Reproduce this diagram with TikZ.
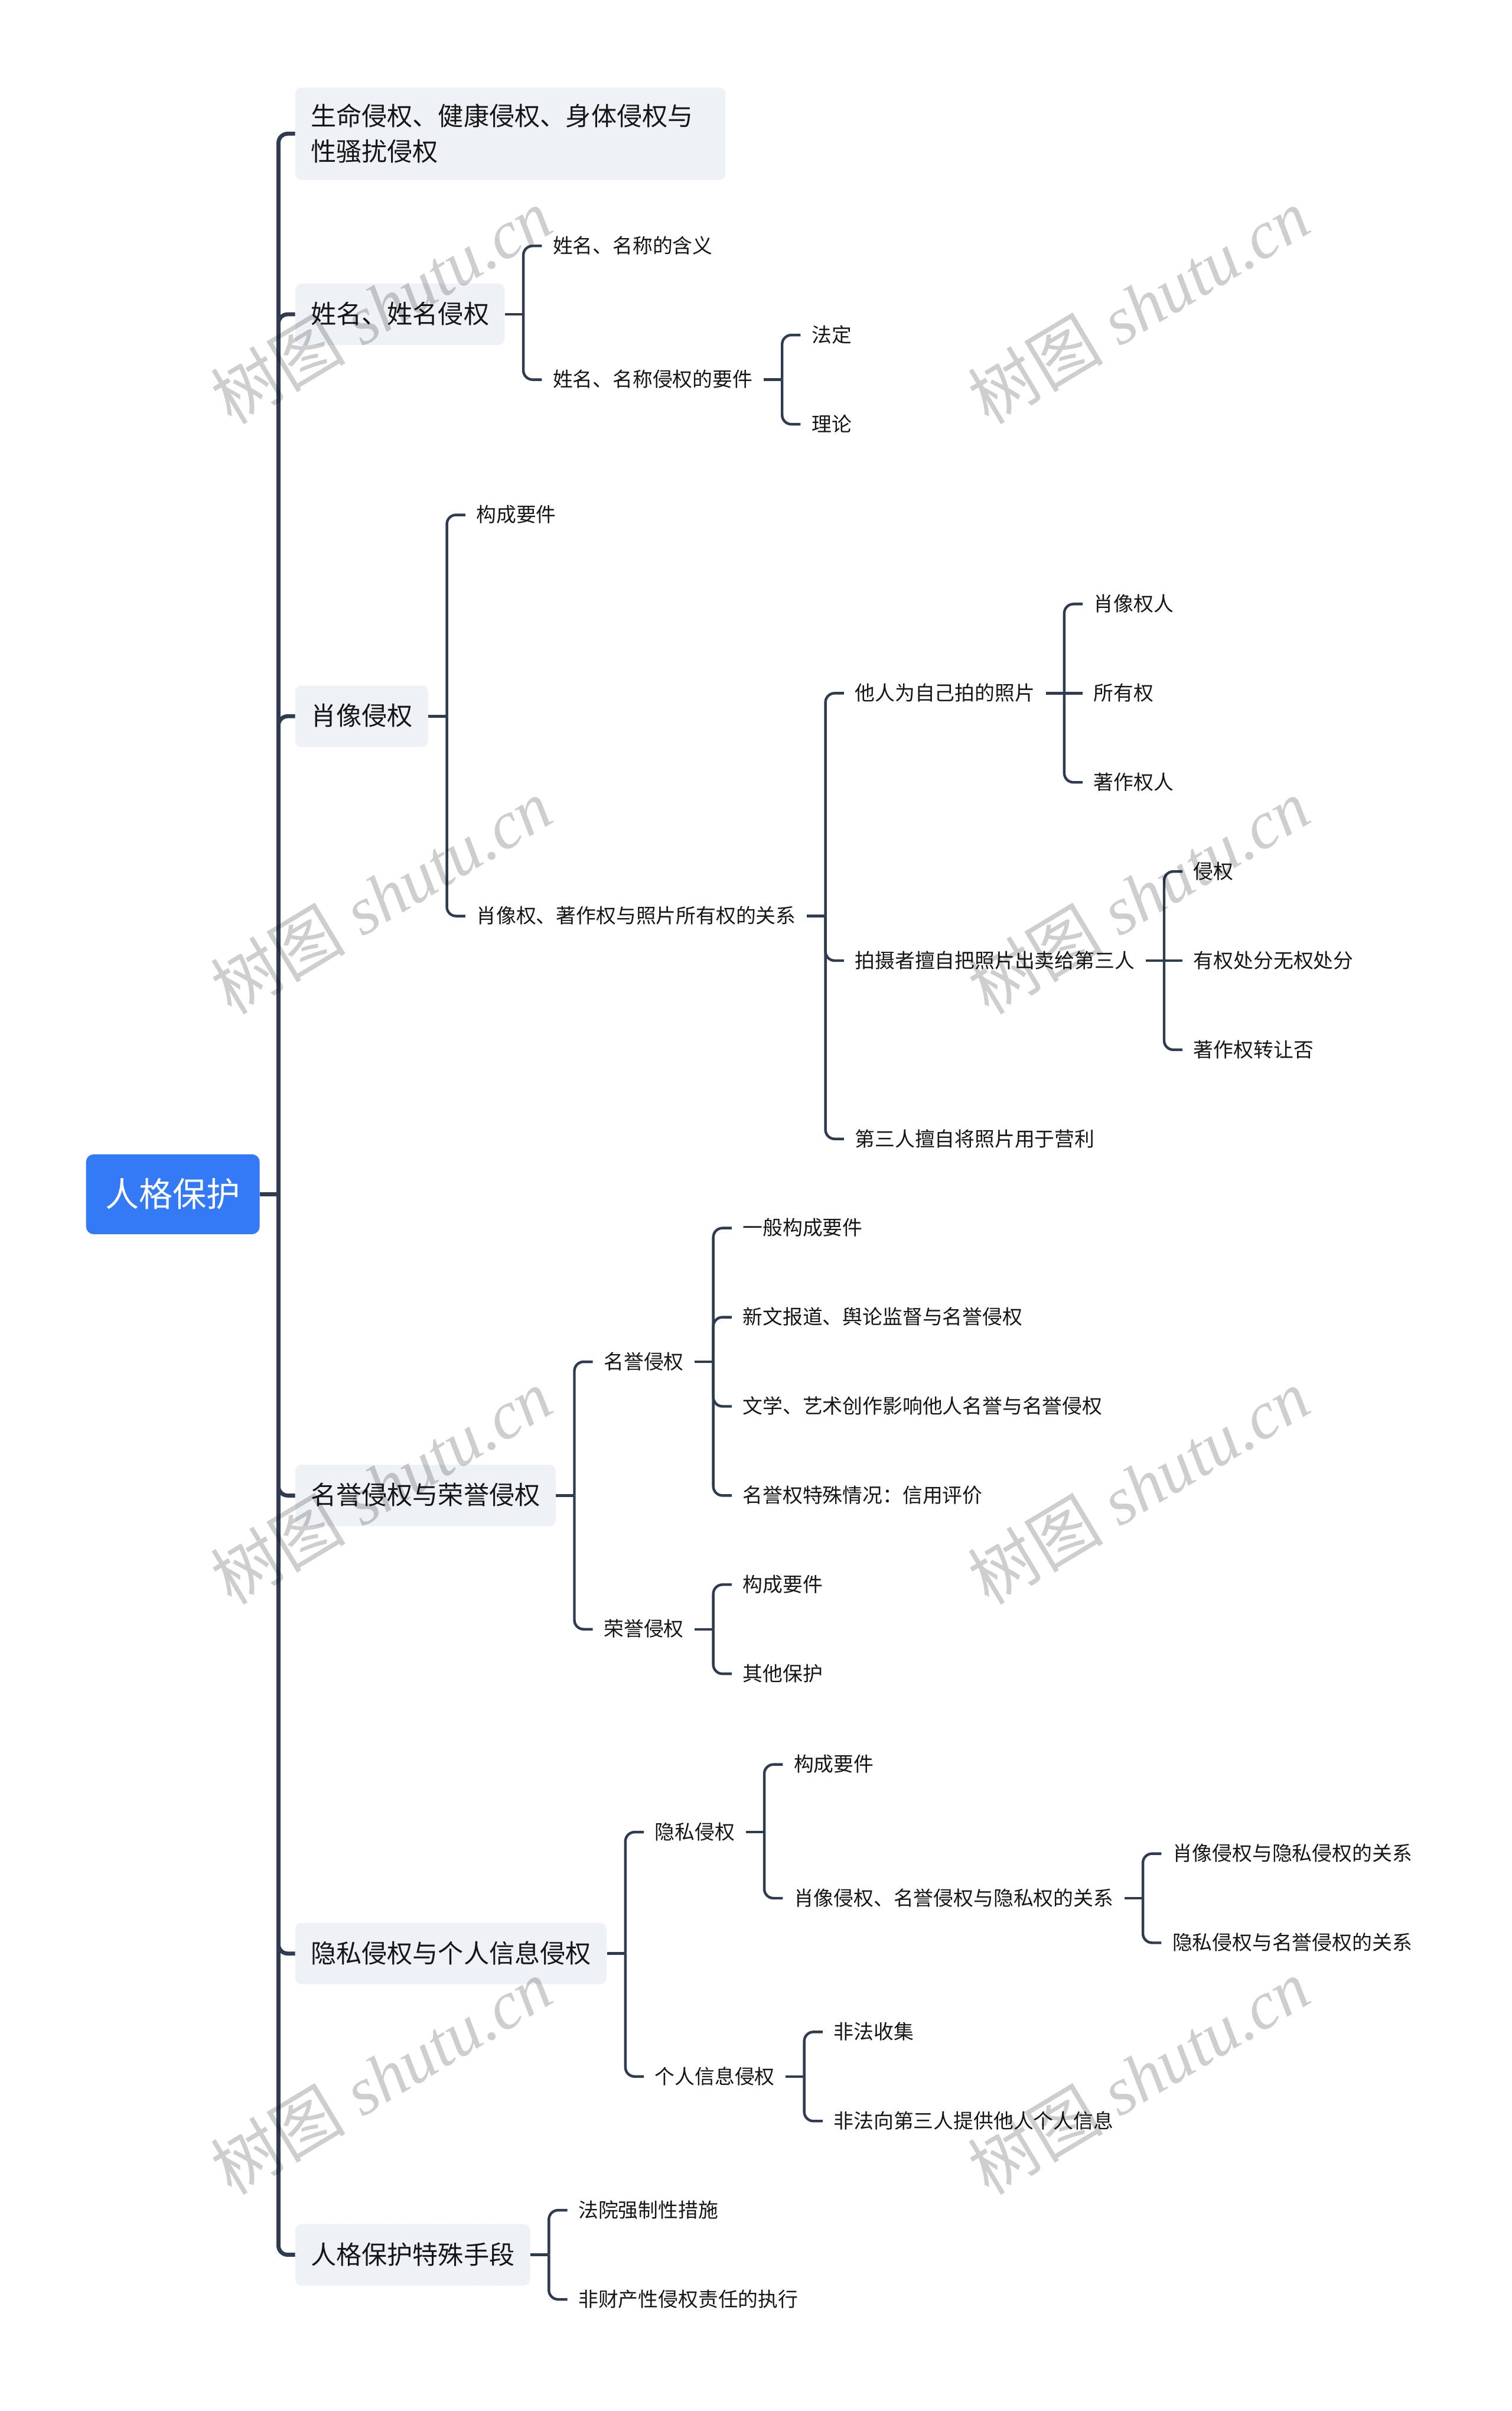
\documentclass[tikz,border=0pt]{standalone}
\usepackage{fontspec}
\setmainfont{Noto Sans CJK SC}
\newfontfamily\wmlatin{Liberation Serif}
\usetikzlibrary{calc}
\definecolor{linec}{RGB}{47,60,80}
\definecolor{boxc}{RGB}{238,241,245}
\definecolor{rootc}{RGB}{52,122,246}
\definecolor{txt}{RGB}{22,22,22}
\definecolor{wmc}{RGB}{206,206,206}
\tikzset{
  conn/.style={draw=linec, line width=1.7pt},
  trunkline/.style={draw=linec, line width=2.6pt},
  leaf/.style={anchor=west, inner xsep=7pt, inner ysep=0pt, text=txt,
    font=\fontsize{13}{15}\selectfont, text height=11pt, text depth=1.6pt},
  lonebase/.style={anchor=west, fill=boxc, rounded corners=4pt, inner xsep=10pt,
    text=txt, font=\fontsize{16.6}{23}\selectfont},
  lone/.style={lonebase, minimum height=40pt, inner ysep=0pt, text height=14pt, text depth=2pt},
  rootbox/.style={fill=rootc, text=white, rounded corners=5pt, minimum width=113pt,
    minimum height=52pt, inner sep=0pt, font=\fontsize{22}{26}\selectfont,
    text height=18.5pt, text depth=2.6pt},
  wm/.style={text=wmc, rotate=31, inner sep=0pt, font=\fontsize{44}{50}\selectfont}
}
\newcommand\kid[4]{\node[leaf] (#1) at ($(#2.east |- 0,-#3)+(24,0)$) {#4};}
\newcommand\branch[2]{%
  \draw[conn] (#1.east) -- ++(12,0) coordinate (#1-b);
  \foreach \c in {#2} {\draw[conn, rounded corners=6pt] (#1-b) |- (\c.west);}
}
\newcommand\straight[2]{\draw[conn] (#1-b) -- (#2.west);}
\begin{document}
\begin{tikzpicture}[x=1pt,y=1pt]
\useasboundingbox (0,0) rectangle (984,-1568.65);
\fill[white] (0,0) rectangle (984,-1568.65);
% root
\node[rootbox] (root) at (112.5,-777) {人格保护};
% level 1
\node[lonebase, text width=260pt, align=left, minimum height=60pt, inner ysep=10pt] (A1) at (192,-87) {生命侵权、健康侵权、身体侵权与\\性骚扰侵权};
\node[lone] (A2) at (192,-204.5) {姓名、姓名侵权};
\node[lone] (A3) at (192,-466) {肖像侵权};
\node[lone] (A4) at (192,-973) {名誉侵权与荣誉侵权};
\node[lone] (A5) at (192,-1271) {隐私侵权与个人信息侵权};
\node[lone] (A6) at (192,-1467) {人格保护特殊手段};
% trunk
\draw[trunkline] (root.east) -- ++(12,0) coordinate (T);
\foreach \c in {A1,A2,A3,A4,A5,A6} {\draw[trunkline, rounded corners=6pt] (T) |- (\c.west);}
% level 2+
\kid{b1}{A2}{160}{姓名、名称的含义}
\kid{b2}{A2}{247}{姓名、名称侵权的要件}
\kid{c1}{b2}{218}{法定}
\kid{c2}{b2}{276}{理论}
\kid{d1}{A3}{335}{构成要件}
\kid{d2}{A3}{596}{肖像权、著作权与照片所有权的关系}
\kid{e1}{d2}{451}{他人为自己拍的照片}
\kid{e2}{d2}{625}{拍摄者擅自把照片出卖给第三人}
\kid{e3}{d2}{741}{第三人擅自将照片用于营利}
\kid{f1}{e1}{393}{肖像权人}
\kid{f2}{e1}{451}{所有权}
\kid{f3}{e1}{509}{著作权人}
\kid{g1}{e2}{567}{侵权}
\kid{g2}{e2}{625}{有权处分无权处分}
\kid{g3}{e2}{683}{著作权转让否}
\kid{h1}{A4}{886}{名誉侵权}
\kid{h2}{A4}{1060}{荣誉侵权}
\kid{i1}{h1}{799}{一般构成要件}
\kid{i2}{h1}{857}{新文报道、舆论监督与名誉侵权}
\kid{i3}{h1}{915}{文学、艺术创作影响他人名誉与名誉侵权}
\kid{i4}{h1}{973}{名誉权特殊情况：信用评价}
\kid{j1}{h2}{1031}{构成要件}
\kid{j2}{h2}{1089}{其他保护}
\kid{k1}{A5}{1192}{隐私侵权}
\kid{k2}{A5}{1351}{个人信息侵权}
\kid{l1}{k1}{1148}{构成要件}
\kid{l2}{k1}{1235}{肖像侵权、名誉侵权与隐私权的关系}
\kid{m1}{l2}{1206}{肖像侵权与隐私侵权的关系}
\kid{m2}{l2}{1264}{隐私侵权与名誉侵权的关系}
\kid{n1}{k2}{1322}{非法收集}
\kid{n2}{k2}{1380}{非法向第三人提供他人个人信息}
\kid{o1}{A6}{1438}{法院强制性措施}
\kid{o2}{A6}{1496}{非财产性侵权责任的执行}
% connectors
\branch{A2}{b1,b2}
\branch{b2}{c1,c2}
\branch{A3}{d1,d2}
\branch{d2}{e1,e2,e3}
\branch{e1}{f1,f3}
\straight{e1}{f2}
\branch{e2}{g1,g3}
\straight{e2}{g2}
\branch{A4}{h1,h2}
\branch{h1}{i1,i2,i3,i4}
\branch{h2}{j1,j2}
\branch{A5}{k1,k2}
\branch{k1}{l1,l2}
\branch{l2}{m1,m2}
\branch{k2}{n1,n2}
\branch{A6}{o1,o2}
% watermarks (multiplied over the drawing)
\begin{scope}[blend mode=multiply]
\foreach \wx in {248,741} {
  \foreach \wy in {199,583,967,1351} {
    \node[wm] (wm-\wx-\wy) at (\wx,-\wy) {树图\hspace{0.25em}{\wmlatin\itshape shutu.cn}};
  }
}
\end{scope}
\end{tikzpicture}
\end{document}
